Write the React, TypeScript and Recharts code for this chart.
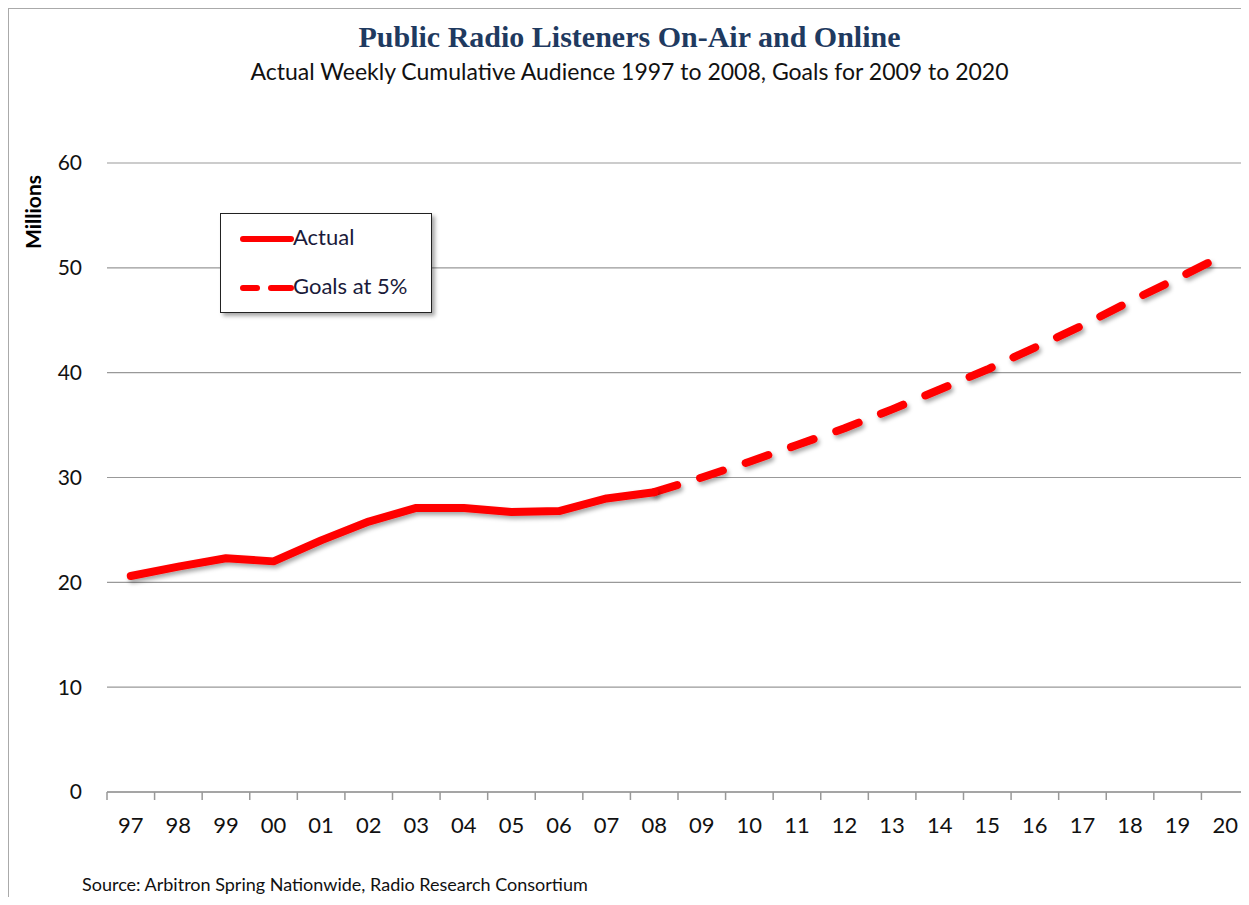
import { LineChart, Line, XAxis, YAxis, CartesianGrid } from "recharts";

const years = ["97", "98", "99", "00", "01", "02", "03", "04", "05", "06", "07", "08", "09", "10", "11", "12", "13", "14", "15", "16", "17", "18", "19", "20"];
const actual = [20.6, 21.5, 22.3, 22.0, 24.0, 25.8, 27.1, 27.1, 26.7, 26.8, 28.0, 28.6, null, null, null, null, null, null, null, null, null, null, null, null];
const goals = [null, null, null, null, null, null, null, null, null, null, null, 28.6, 30.0, 31.5, 33.1, 34.7, 36.5, 38.4, 40.3, 42.4, 44.5, 46.8, 49.0, 51.3];
const yTicks = [0, 10, 20, 30, 40, 50, 60];

const data = years.map((y, i) => ({ year: y, actual: actual[i], goals: goals[i] }));

const font = "Lato, 'Open Sans', sans-serif";
const red = "#ff0000";
const step = 1142 / 24;

const XTick = (props: any) => {
  const { x, y, payload, index } = props;
  const last = index === years.length - 1;
  return (
    <g>
      <line x1={x - step / 2} y1={y - 8} x2={x - step / 2} y2={y} stroke="#999" strokeWidth={1.5} />
      {last && <line x1={x + step / 2 - 1} y1={y - 8} x2={x + step / 2 - 1} y2={y} stroke="#999" strokeWidth={1.5} />}
      <text x={x} y={y + 33} textAnchor="middle" fontSize={22} fontFamily={font} fill="#111">
        {payload.value}
      </text>
    </g>
  );
};

const LegendBox = () => (
  <div
    style={{
      position: "absolute",
      left: 220,
      top: 213,
      width: 210,
      height: 98,
      background: "#fff",
      border: "1.5px solid #222",
      boxShadow: "3px 3px 4px rgba(0,0,0,0.35)",
      fontFamily: font,
      fontSize: 22,
      color: "#1a1a3a",
    }}
  >
    <svg width={80} height={98} style={{ position: "absolute", left: 0, top: 0 }}>
      <line x1={22} y1={25} x2={70} y2={25} stroke={red} strokeWidth={6} strokeLinecap="round" />
      <line x1={22} y1={74} x2={36} y2={74} stroke={red} strokeWidth={6} strokeLinecap="round" />
      <line x1={50} y1={74} x2={70} y2={74} stroke={red} strokeWidth={6} strokeLinecap="round" />
    </svg>
    <div style={{ position: "absolute", left: 72, top: 9 }}>Actual</div>
    <div style={{ position: "absolute", left: 72, top: 58 }}>Goals at 5%</div>
  </div>
);

export default function App() {
  return (
    <div style={{ position: "relative", width: 1249, height: 905, margin: -8, background: "#fff", overflow: "hidden" }}>
      <div
        style={{
          position: "absolute",
          left: 7,
          top: 7,
          width: 1260,
          height: 920,
          borderTop: "2px solid #aaa",
          borderLeft: "2px solid #aaa",
        }}
      />
      <div
        style={{
          position: "absolute",
          top: 20,
          left: 0,
          width: 1259,
          textAlign: "center",
          fontFamily: "'Liberation Serif', serif",
          fontWeight: "bold",
          fontSize: 30,
          color: "#1f3a60",
        }}
      >
        Public Radio Listeners On-Air and Online
      </div>
      <div
        style={{
          position: "absolute",
          top: 57,
          left: 0,
          width: 1259,
          textAlign: "center",
          fontFamily: font,
          fontSize: 23,
          color: "#111",
        }}
      >
        Actual Weekly Cumulative Audience 1997 to 2008, Goals for 2009 to 2020
      </div>
      <div
        style={{
          position: "absolute",
          left: 32,
          top: 212,
          transform: "translate(-50%, -50%) rotate(-90deg)",
          fontFamily: font,
          fontWeight: "bold",
          fontSize: 21,
          color: "#000",
          whiteSpace: "nowrap",
        }}
      >
        Millions
      </div>
      <div
        style={{
          position: "absolute",
          left: 82,
          top: 873,
          fontFamily: font,
          fontSize: 18,
          color: "#111",
        }}
      >
        Source: Arbitron Spring Nationwide, Radio Research Consortium
      </div>
      <div style={{ position: "absolute", left: 0, top: 0 }}>
        <LineChart width={1249} height={905} data={data} margin={{ top: 163, right: 0, bottom: 83, left: 47 }}>
          <defs>
            <filter id="lineShadow" x="-5%" y="-20%" width="110%" height="140%">
              <feDropShadow dx={2} dy={3} stdDeviation={2} floodColor="#000" floodOpacity={0.35} />
            </filter>
          </defs>
          <CartesianGrid vertical={false} stroke="#999" strokeWidth={1.2} />
          <XAxis
            dataKey="year"
            padding={{ left: step / 2, right: step / 2 }}
            axisLine={{ stroke: "#999", strokeWidth: 1.5 }}
            tickLine={false}
            tick={<XTick />}
            interval={0}
            height={30}
          />
          <YAxis
            domain={[0, 60]}
            ticks={yTicks}
            width={60}
            axisLine={false}
            tickLine={false}
            tickSize={0}
            tickMargin={25}
            tick={{ fontSize: 21, fontFamily: font, fill: "#111" }}
          />
          <Line
            dataKey="goals"
            stroke={red}
            strokeWidth={8}
            strokeDasharray="24 24"
            strokeLinecap="round"
            strokeLinejoin="round"
            dot={false}
            filter="url(#lineShadow)"
            isAnimationActive={false}
            connectNulls={false}
          />
          <Line
            dataKey="actual"
            stroke={red}
            strokeWidth={8}
            strokeLinecap="round"
            strokeLinejoin="round"
            dot={false}
            filter="url(#lineShadow)"
            isAnimationActive={false}
            connectNulls={false}
          />
        </LineChart>
      </div>
      <LegendBox />
    </div>
  );
}
